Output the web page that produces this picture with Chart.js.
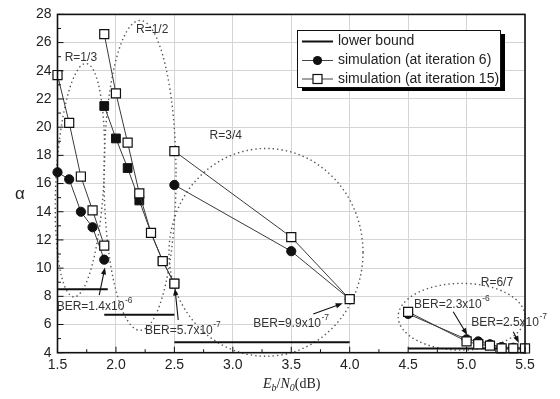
<!DOCTYPE html>
<html>
<head>
<meta charset="utf-8">
<script src="https://cdn.jsdelivr.net/npm/chart.js@4.4.0/dist/chart.umd.min.js"></script>
<style>
  html, body { margin: 0; padding: 0; background: #fff; }
  #wrap { width: 560px; height: 399px; }
</style>
</head>
<body>
<div id="wrap"><canvas id="alphaChart" width="560" height="399"></canvas></div>
<script>
// values (Eb/N0 in dB, alpha)
const ebnoR13 = [1.5, 1.6, 1.7, 1.8, 1.9];
const iter6R13 = [16.8, 16.3, 14.0, 12.9, 10.6];
const iter15R13 = [23.7, 20.3, 16.5, 14.1, 11.6];

const ebnoR12 = [1.9, 2.0, 2.1, 2.2, 2.3, 2.4, 2.5];
const iter6R12 = [21.5, 19.2, 17.1, 14.8, 12.5, 10.5, 8.9];
const iter15R12 = [26.6, 22.4, 18.9, 15.3, 12.5, 10.5, 8.9];

const ebnoR34 = [2.5, 3.5, 4.0];
const iter6R34 = [15.9, 11.2, 7.8];
const iter15R34 = [18.3, 12.2, 7.8];

const ebnoR67 = [4.5, 5.0, 5.1, 5.2, 5.3, 5.4, 5.5];
const iter6R67 = [6.75, 4.95, 4.8, 4.6, 4.4, 4.35, 4.3];
const iter15R67 = [6.9, 4.8, 4.6, 4.5, 4.3, 4.3, 4.3];

// lower bound segments: start/end Eb/N0 and alpha
const boundStart = [1.5, 1.9, 2.5, 4.5];
const boundEnd = [1.93, 2.5, 4.0, 5.5];
const boundAlpha = [8.5, 6.7, 4.75, 4.3];

const legendLabels = ['lower bound', 'simulation (at iteration 6)', 'simulation (at iteration 15)'];
const rateLabels = ['R=1/3', 'R=1/2', 'R=3/4', 'R=6/7'];
const berMantissa = ['1.4', '5.7', '9.9', '2.3', '2.5'];
const berExponent = ['-6', '-7', '-7', '-6', '-7'];

// annotation placement, in data units
const rateLabelPos = [[1.70, 24.9], [2.31, 26.9], [2.94, 19.4], [5.26, 9.0]];
const rateEllipses = [
    { x: 1.692, y: 16.24, rx: 0.205, ry: 8.29, tilt: 3 },
    { x: 2.206, y: 16.58, rx: 0.308, ry: 10.99, tilt: 0 },
    { x: 3.284, y: 11.12, rx: 0.83, ry: 7.37, tilt: 0 },
    { x: 4.958, y: 6.55, rx: 0.543, ry: 2.37, tilt: 0 }
];
const berLabelPos = [[1.493, 7.26], [2.249, 5.56], [3.175, 6.08], [4.55, 7.38], [5.04, 6.13]];
const berArrows = [
    [1.857, 8.09, 1.906, 10.05],
    [2.533, 6.32, 2.505, 8.56],
    [3.688, 6.74, 3.94, 7.5],
    [4.886, 6.9, 5.006, 5.25],
    [5.40, 5.49, 5.448, 4.69]
];

const FONT = "'Liberation Sans', Arial, sans-serif";
const SERIF = "'Liberation Serif', 'Times New Roman', serif";

document.addEventListener('DOMContentLoaded', () => {
    const ctx = document.getElementById('alphaChart').getContext('2d');

    const toPoints = (xs, ys) => xs.map((x, i) => ({ x, y: ys[i] }));

    const groups = [
        [ebnoR13, iter6R13, iter15R13, 'circle'],
        [ebnoR12, iter6R12, iter15R12, 'rect'],
        [ebnoR34, iter6R34, iter15R34, 'circle'],
        [ebnoR67, iter6R67, iter15R67, 'circle']
    ];

    const datasets = [];
    groups.forEach(([xs, it6, it15, style]) => {
        datasets.push({
            label: legendLabels[2],
            data: toPoints(xs, it15),
            borderColor: '#3a3a3a',
            borderWidth: 1,
            pointStyle: 'rect',
            pointRadius: 6.4,
            pointBackgroundColor: '#fff',
            pointBorderColor: '#111',
            pointBorderWidth: 1.2,
            clip: false,
            order: 1
        });
        datasets.push({
            label: legendLabels[1],
            data: toPoints(xs, it6),
            borderColor: '#3a3a3a',
            borderWidth: 1,
            pointStyle: style,
            pointRadius: style === 'rect' ? 6.2 : 4.6,
            pointBackgroundColor: '#111',
            pointBorderColor: '#111',
            pointBorderWidth: 1,
            clip: false,
            order: 2
        });
    });
    boundAlpha.forEach((a, i) => {
        datasets.push({
            label: legendLabels[0],
            data: [{ x: boundStart[i], y: a }, { x: boundEnd[i], y: a }],
            borderColor: '#111',
            borderWidth: 2,
            pointRadius: 0,
            clip: false,
            order: 3
        });
    });

    function drawArrow(c, x1, y1, x2, y2) {
        const ang = Math.atan2(y2 - y1, x2 - x1);
        const len = 7, half = 2.6;
        c.beginPath();
        c.moveTo(x1, y1);
        c.lineTo(x2 - Math.cos(ang) * len * 0.8, y2 - Math.sin(ang) * len * 0.8);
        c.stroke();
        c.beginPath();
        c.moveTo(x2, y2);
        c.lineTo(x2 - Math.cos(ang) * len - Math.sin(ang) * half, y2 - Math.sin(ang) * len + Math.cos(ang) * half);
        c.lineTo(x2 - Math.cos(ang) * len + Math.sin(ang) * half, y2 - Math.sin(ang) * len - Math.cos(ang) * half);
        c.closePath();
        c.fill();
    }

    const decorations = {
        id: 'decorations',
        beforeDatasetsDraw(chart) {
            const c = chart.ctx, xs = chart.scales.x, ys = chart.scales.y;
            c.save();
            c.strokeStyle = '#555';
            c.lineWidth = 1.4;
            c.setLineDash([1.4, 3]);
            rateEllipses.forEach(e => {
                const cx = xs.getPixelForValue(e.x), cy = ys.getPixelForValue(e.y);
                const rx = Math.abs(xs.getPixelForValue(e.x + e.rx) - cx);
                const ry = Math.abs(ys.getPixelForValue(e.y + e.ry) - cy);
                c.beginPath();
                c.ellipse(cx, cy, rx, ry, e.tilt * Math.PI / 180, 0, Math.PI * 2);
                c.stroke();
            });
            c.restore();
        },
        afterDatasetsDraw(chart) {
            const c = chart.ctx, xs = chart.scales.x, ys = chart.scales.y, a = chart.chartArea;
            c.save();

            // inward ticks
            c.strokeStyle = '#111';
            c.lineWidth = 1;
            const xt = xs.ticks.map(t => t.value);
            xt.forEach((v, i) => {
                const p = xs.getPixelForValue(v);
                c.beginPath(); c.moveTo(p, a.bottom); c.lineTo(p, a.bottom - 6); c.stroke();
                if (i < xt.length - 1) {
                    const m = xs.getPixelForValue((v + xt[i + 1]) / 2);
                    c.beginPath(); c.moveTo(m, a.bottom); c.lineTo(m, a.bottom - 3.5); c.stroke();
                }
            });
            const yt = ys.ticks.map(t => t.value);
            yt.forEach((v, i) => {
                const p = ys.getPixelForValue(v);
                c.beginPath(); c.moveTo(a.left, p); c.lineTo(a.left + 6, p); c.stroke();
                if (i < yt.length - 1) {
                    const m = ys.getPixelForValue((v + yt[i + 1]) / 2);
                    c.beginPath(); c.moveTo(a.left, m); c.lineTo(a.left + 3.5, m); c.stroke();
                }
            });

            // frame
            c.lineWidth = 1.6;
            c.strokeRect(a.left, a.top, a.right - a.left, a.bottom - a.top);

            // rate labels
            c.fillStyle = '#333';
            c.font = '12px ' + FONT;
            c.textAlign = 'center';
            c.textBaseline = 'middle';
            rateLabels.forEach((t, i) => {
                c.fillText(t, xs.getPixelForValue(rateLabelPos[i][0]), ys.getPixelForValue(rateLabelPos[i][1]));
            });

            // BER labels
            c.textAlign = 'left';
            berMantissa.forEach((m, i) => {
                const x = xs.getPixelForValue(berLabelPos[i][0]);
                const y = ys.getPixelForValue(berLabelPos[i][1]);
                c.font = '12px ' + FONT;
                const main = 'BER=' + m + 'x10';
                c.fillText(main, x, y);
                const w = c.measureText(main).width;
                c.font = '8.5px ' + FONT;
                c.fillText(berExponent[i], x + w + 0.5, y - 6);
            });

            // arrows
            c.strokeStyle = '#111';
            c.fillStyle = '#111';
            c.lineWidth = 1.1;
            berArrows.forEach(([x1, y1, x2, y2]) => {
                drawArrow(c, xs.getPixelForValue(x1), ys.getPixelForValue(y1),
                          xs.getPixelForValue(x2), ys.getPixelForValue(y2));
            });

            // legend box with drop shadow
            const lx = 297, ly = 30, lw = 203, lh = 57;
            c.fillStyle = '#000';
            c.fillRect(lx + 5, ly + 4, lw, lh);
            c.fillStyle = '#fff';
            c.fillRect(lx, ly, lw, lh);
            c.strokeStyle = '#111';
            c.lineWidth = 1;
            c.strokeRect(lx + 0.5, ly + 0.5, lw, lh);
            const rows = [41.5, 60.5, 79];
            rows.forEach((ry, i) => {
                c.beginPath();
                c.strokeStyle = i === 0 ? '#111' : '#444';
                c.lineWidth = i === 0 ? 2 : 1;
                c.moveTo(302, ry); c.lineTo(333, ry); c.stroke();
                if (i === 1) {
                    c.fillStyle = '#111';
                    c.beginPath(); c.arc(317.5, ry, 4.6, 0, Math.PI * 2); c.fill();
                } else if (i === 2) {
                    c.fillStyle = '#fff';
                    c.fillRect(313, ry - 4.5, 9, 9);
                    c.strokeStyle = '#111';
                    c.lineWidth = 1.2;
                    c.strokeRect(313, ry - 4.5, 9, 9);
                }
                c.fillStyle = '#222';
                c.font = '14px ' + FONT;
                c.textAlign = 'left';
                c.textBaseline = 'middle';
                c.fillText(legendLabels[i], 338, ry);
            });

            // axis titles
            c.fillStyle = '#222';
            c.font = '17px ' + FONT;
            c.textAlign = 'center';
            c.fillText('\u03b1', 20, 194);

            c.textAlign = 'left';
            c.textBaseline = 'alphabetic';
            const parts = [
                ['E', 'italic 14px ' + SERIF, 0],
                ['b', 'italic 10px ' + SERIF, 3],
                ['/', '14px ' + SERIF, 0],
                ['N', 'italic 14px ' + SERIF, 0],
                ['0', 'italic 10px ' + SERIF, 3],
                ['(dB)', '14px ' + SERIF, 0]
            ];
            let tx = 263, base = 388;
            parts.forEach(([t, f, dy]) => {
                c.font = f;
                c.fillText(t, tx, base + dy);
                tx += c.measureText(t).width;
            });
            c.restore();
        }
    };

    new Chart(ctx, {
        type: 'line',
        data: { datasets },
        options: {
            responsive: false,
            animation: false,
            layout: { padding: { left: 0, top: 14, right: 35, bottom: 0 } },
            plugins: { legend: { display: false }, tooltip: { enabled: false } },
            elements: { line: { tension: 0 } },
            scales: {
                x: {
                    type: 'linear',
                    min: 1.5,
                    max: 5.5,
                    afterFit: s => { s.height = 46.3; },
                    grid: { color: '#d4d4d4', lineWidth: 1, drawTicks: false },
                    border: { display: false },
                    ticks: {
                        stepSize: 0.5,
                        padding: 4,
                        color: '#222',
                        font: { family: FONT, size: 14 },
                        callback: v => Number(v).toFixed(1)
                    }
                },
                y: {
                    min: 4,
                    max: 28,
                    afterFit: s => { s.width = 57.5; },
                    grid: { color: '#d4d4d4', lineWidth: 1, drawTicks: false },
                    border: { display: false },
                    ticks: {
                        stepSize: 2,
                        padding: 6,
                        color: '#222',
                        font: { family: FONT, size: 14 }
                    }
                }
            }
        },
        plugins: [decorations]
    });
});
</script>
</body>
</html>
